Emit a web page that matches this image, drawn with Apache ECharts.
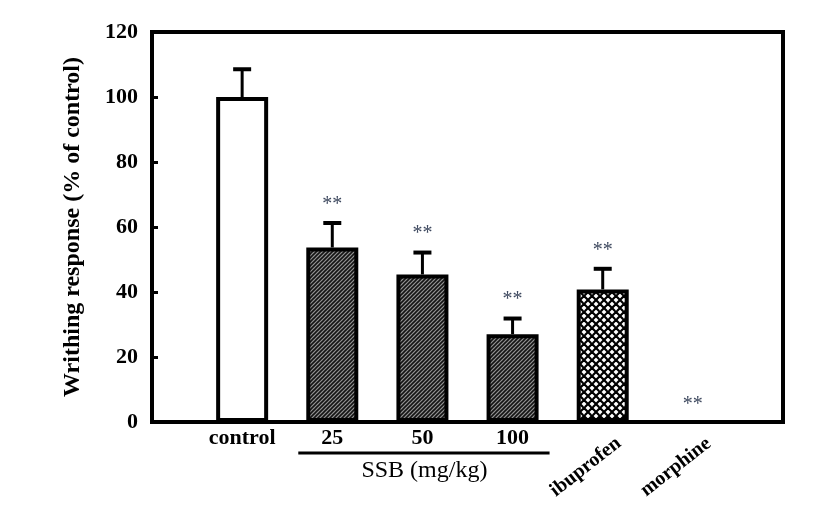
<!DOCTYPE html>
<html>
<head>
<meta charset="utf-8">
<script src="https://cdn.jsdelivr.net/npm/echarts@6/dist/echarts.min.js"></script>
<style>html,body{margin:0;padding:0;background:#fff}#c{width:827px;height:515px}</style>
</head>
<body>
<div id="c"></div>
<script>
// ---- data ----
var categories = ['', 'control', '25', '50', '100', 'ibuprofen', 'morphine', ''];
var values = [null, 100, 53.7, 45.4, 27.0, 40.8, 0, null];
var errors = [null, 9.0, 8.0, 7.2, 5.3, 6.8, 0, null];
var significance = ['', '', '**', '**', '**', '**', '**', ''];
var rotatedLabels = ['ibuprofen', 'morphine'];
var groupLabel = 'SSB (mg/kg)';
var groupCategories = ['25', '100'];
var yTicks = [0, 20, 40, 60, 80, 100, 120];
var yTitle = 'Writhing response (% of control)';

// ---- patterns (style) ----
function hatch() {
  var c = document.createElement('canvas'); c.width = 4; c.height = 4;
  var g = c.getContext('2d');
  g.fillStyle = '#959595'; g.fillRect(0, 0, 4, 4);
  g.strokeStyle = '#141414'; g.lineWidth = 1.6;
  g.beginPath(); g.moveTo(-1, 5); g.lineTo(5, -1); g.stroke();
  g.beginPath(); g.moveTo(-1, 1); g.lineTo(1, -1); g.stroke();
  g.beginPath(); g.moveTo(3, 5); g.lineTo(5, 3); g.stroke();
  return c;
}
function cross() {
  var s = 8;
  var c = document.createElement('canvas'); c.width = s; c.height = s;
  var g = c.getContext('2d');
  g.fillStyle = '#fff'; g.fillRect(0, 0, s, s);
  g.strokeStyle = '#000'; g.lineWidth = 2.2;
  g.beginPath(); g.moveTo(-1, -1); g.lineTo(s + 1, s + 1); g.stroke();
  g.beginPath(); g.moveTo(s + 1, -1); g.lineTo(-1, s + 1); g.stroke();
  return c;
}
var hatchFill = { image: hatch(), repeat: 'repeat' };
var crossFill = { image: cross(), repeat: 'repeat' };
function fillFor(cat) {
  if (cat === 'control') return '#fff';
  if (cat === 'ibuprofen') return crossFill;
  return hatchFill;
}

var FONT = 'Liberation Serif, Times New Roman, serif';

var barData = values.map(function (v, i) {
  if (v === null) return null;
  return { value: v, itemStyle: { color: fillFor(categories[i]), borderColor: '#000', borderWidth: v === 0 ? 0 : 4 } };
});
var errData = values.map(function (v, i) { return [i, v, errors[i], significance[i]]; })
  .filter(function (d) { return d[1] !== null; });

var chart = echarts.init(document.getElementById('c'), null, { renderer: 'canvas' });
chart.setOption({
  animation: false,
  grid: { left: 152, right: 44, top: 32, bottom: 93, show: true, borderColor: '#000', borderWidth: 4, backgroundColor: 'transparent' },
  xAxis: {
    type: 'category', data: categories, boundaryGap: false,
    axisLine: { lineStyle: { color: '#000', width: 4 } },
    axisTick: { show: false },
    splitLine: { show: false },
    axisLabel: {
      interval: 0, margin: 5, color: '#000', fontFamily: FONT, fontWeight: 'bold', fontSize: 22,
      formatter: function (v) { return rotatedLabels.indexOf(v) >= 0 ? '' : v; }
    }
  },
  yAxis: {
    type: 'value', min: yTicks[0], max: yTicks[yTicks.length - 1], interval: yTicks[1] - yTicks[0],
    name: yTitle, nameLocation: 'middle', nameGap: 67,
    nameTextStyle: { color: '#000', fontFamily: FONT, fontWeight: 'bold', fontSize: 24 },
    axisLine: { show: true, lineStyle: { color: '#000', width: 4 } },
    axisTick: { show: true, inside: true, length: 6, lineStyle: { color: '#000', width: 3 } },
    splitLine: { show: false },
    axisLabel: { margin: 14, color: '#000', fontFamily: FONT, fontWeight: 'bold', fontSize: 22 }
  },
  series: [
    { type: 'bar', data: barData, barWidth: 52, z: 2 },
    {
      type: 'custom', data: errData, clip: false, z: 3,
      encode: { x: 0, y: 1 },
      renderItem: function (params, api) {
        var i = api.value(0), v = api.value(1), e = api.value(2);
        var star = errData[params.dataIndex][3];
        var base = api.coord([i, v]);
        var top = api.coord([i, v + e]);
        var children = [];
        if (e > 0) {
          children.push({ type: 'line', shape: { x1: base[0], y1: base[1], x2: top[0], y2: top[1] + 1 }, style: { stroke: '#000', lineWidth: 3 } });
          children.push({ type: 'line', shape: { x1: top[0] - 9, y1: top[1] + 1.5, x2: top[0] + 9, y2: top[1] + 1.5 }, style: { stroke: '#000', lineWidth: 4 } });
        }
        if (star) {
          children.push({ type: 'text', x: top[0], y: top[1] - 17, style: { text: star, fill: '#3f4a60', font: '20px ' + FONT, align: 'center', verticalAlign: 'middle' } });
        }
        return { type: 'group', children: children };
      }
    },
    {
      type: 'custom', data: [[0, 0]], clip: false, z: 4, silent: true,
      encode: { x: 0, y: 1 },
      renderItem: function (params, api) {
        var children = [];
        rotatedLabels.forEach(function (name) {
          var p = api.coord([categories.indexOf(name), 0]);
          children.push({ type: 'text', x: p[0] - 17, y: p[1] + 45, rotation: 38 * Math.PI / 180,
            style: { text: name, fill: '#000', font: 'bold 20px ' + FONT, align: 'center', verticalAlign: 'middle' } });
        });
        var a = api.coord([categories.indexOf(groupCategories[0]), 0]);
        var b = api.coord([categories.indexOf(groupCategories[1]), 0]);
        children.push({ type: 'line', shape: { x1: a[0] - 34, y1: a[1] + 31, x2: b[0] + 37, y2: b[1] + 31 }, style: { stroke: '#000', lineWidth: 3 } });
        children.push({ type: 'text', x: (a[0] + b[0]) / 2 + 2, y: a[1] + 49,
          style: { text: groupLabel, fill: '#000', font: '24px ' + FONT, align: 'center', verticalAlign: 'middle' } });
        return { type: 'group', children: children };
      }
    }
  ]
});
</script>
</body>
</html>
